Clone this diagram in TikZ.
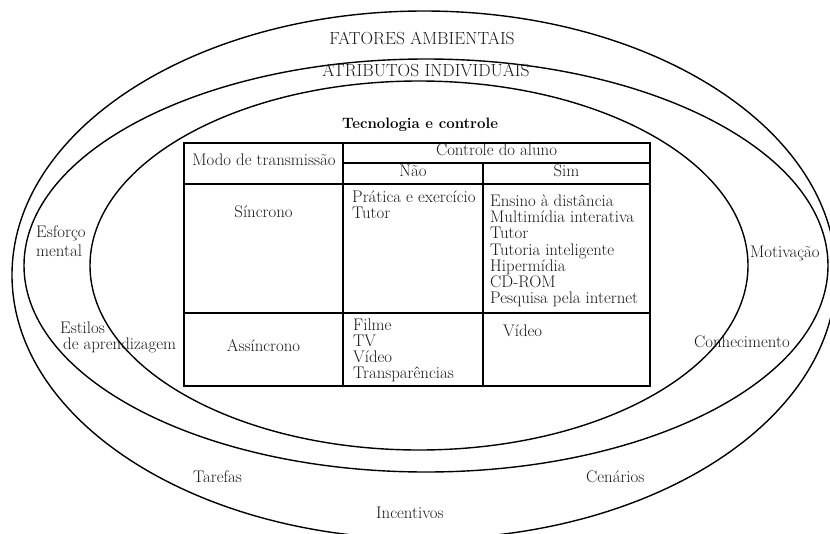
\documentclass[tikz,border=0pt]{standalone}
\usepackage{fontspec}
\begin{document}
\begin{tikzpicture}[x=1pt,y=-1pt,
  ring/.style={line width=1.4pt},
  grid/.style={line width=1.4pt},
  lbl/.style={inner sep=0pt,anchor=mid,text=black!90,font=\fontsize{16.8}{17}\selectfont},
  lbll/.style={lbl,anchor=mid west},
  caps/.style={lbl,font=\fontsize{17.5}{18}\selectfont}]
\useasboundingbox (0,0) rectangle (830,533);
\clip (0,0) rectangle (830,533);
% rings
\draw[ring] (424,275) ellipse [x radius=412pt,y radius=264pt];
\draw[ring] (426,265.5) ellipse [x radius=402pt,y radius=206.5pt];
\draw[ring] (419,265.5) ellipse [x radius=329pt,y radius=184.5pt];
% table
\coordinate (tl) at (184,143);
\coordinate (br) at (650,386);
\draw[grid] (tl) rectangle (br);
\draw[grid] (343,143) -- (343,386);
\draw[grid] (483,163) -- (483,386);
\draw[grid] (343,163) -- (650,163);
\draw[grid] (184,184) -- (650,184);
\draw[grid] (184,313) -- (650,313);
% ring labels
\node[caps] (fa) at (422,42) {FATORES AMBIENTAIS};
\node[caps] (ai) at (426,74) {ATRIBUTOS INDIVIDUAIS};
\node[lbl,text=black,font=\fontsize{15}{16}\selectfont\bfseries] (tc) at (420,126) {Tecnologia e controle};
\node[lbll] (esf) at (36,235) {Esforço};
\node[lbll] (men) at (36,254) {mental};
\node[lbll] (est) at (60,331) {Estilos};
\node[lbll] (apr) at (63,347) {de aprendizagem};
\node[lbll] (mot) at (750,255) {Motivação};
\node[lbll] (con) at (694,345) {Conhecimento};
\node[lbll] (tar) at (193,480) {Tarefas};
\node[lbll] (cen) at (586,480) {Cenários};
\node[lbll] (inc) at (376,516) {Incentivos};
% table texts
\node[lbl] (modo) at (264,163) {Modo de transmissão};
\node[lbl] (ctrl) at (496.5,153) {Controle do aluno};
\node[lbl] (nao) at (413,174) {Não};
\node[lbl] (sim) at (566.5,174) {Sim};
\node[lbl] (sinc) at (263.5,215) {Síncrono};
\node[lbl] (assi) at (263.5,349) {Assíncrono};
\node[lbll] (n1) at (352,200) {Prática e exercício};
\node[lbll] (n2) at (352,216) {Tutor};
\node[lbll] (s1) at (490,204) {Ensino à distância};
\node[lbll] (s2) at (490,220) {Multimídia interativa};
\node[lbll] (s3) at (490,236) {Tutor};
\node[lbll] (s4) at (490,253) {Tutoria inteligente};
\node[lbll] (s5) at (490,269) {Hipermídia};
\node[lbll] (s6) at (490,285) {CD-ROM};
\node[lbll] (s7) at (490,301) {Pesquisa pela internet};
\node[lbll] (a1) at (353,328) {Filme};
\node[lbll] (a2) at (353,344) {TV};
\node[lbll] (a3) at (353,360) {Vídeo};
\node[lbll] (a4) at (353,376) {Transparências};
\node[lbll] (b1) at (503,334) {Vídeo};
\end{tikzpicture}
\end{document}
